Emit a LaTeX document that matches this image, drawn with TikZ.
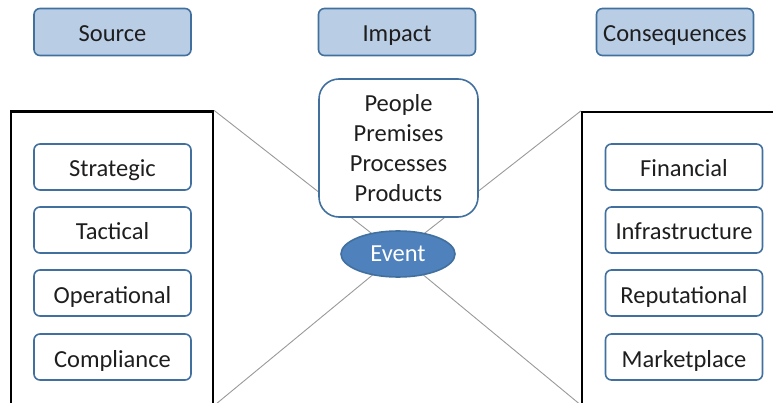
\documentclass[tikz,border=0pt]{standalone}
\usepackage{fontspec}
\setmainfont{Carlito}
\usetikzlibrary{shapes.geometric}
\definecolor{hdrfill}{HTML}{B9CDE5}
\definecolor{boxedge}{HTML}{41709F}
\definecolor{eventfill}{HTML}{4F81BD}
\definecolor{inktext}{HTML}{1E1E1E}
\tikzset{
  panel/.style={draw=boxedge, line width=1.6pt, rounded corners=6pt, text=inktext,
    font=\fontsize{24.5}{30}\selectfont},
  header/.style={panel, fill=hdrfill, minimum width=157pt, minimum height=47pt,
    text height=22pt, text depth=2pt},
  item/.style={panel, fill=white, minimum width=157pt, minimum height=46pt,
    text height=22pt, text depth=2pt},
  frame/.style={draw=black, line width=2.2pt, fill=white},
  spoke/.style={draw=gray!80, line width=0.9pt}
}
\begin{document}
\begin{tikzpicture}[x=1pt,y=-1pt]
  \useasboundingbox (0,0) rectangle (773,403);
  \coordinate (hub) at (398,254);

  \node[frame, minimum width=202pt, minimum height=293pt] (srcframe) at (112,258) {};
  \node[frame, minimum width=212pt, minimum height=292pt] (conframe) at (688,258) {};

  \draw[spoke] (srcframe.north east) -- (hub) -- (srcframe.south east);
  \draw[spoke] (conframe.north west) -- (hub) -- (conframe.south west);

  \node[header] (source) at (112.5,32) {Source};
  \node[header] (impact) at (397,32) {Impact};
  \node[header] (cons) at (675,32) {Consequences};

  \node[item] (strat) at (112.5,167) {Strategic};
  \node[item] (tact) at (112.5,230) {Tactical};
  \node[item] (oper) at (112.5,293) {Operational};
  \node[item] (compl) at (112.5,357) {Compliance};

  \node[item] (fin) at (684,167) {Financial};
  \node[item] (infra) at (684,230) {Infrastructure};
  \node[item] (repu) at (684,293) {Reputational};
  \node[item] (market) at (684,357) {Marketplace};

  \node[panel, fill=white, rounded corners=20pt, minimum width=159pt, minimum height=138pt,
    align=center] (assets) at (398.5,148) {People\\Premises\\Processes\\Products};
  \node[ellipse, draw=boxedge, fill=eventfill, line width=1.6pt, text=white,
    minimum width=114pt, minimum height=46pt, inner sep=0pt,
    font=\fontsize{24.5}{28}\selectfont] (event) at (hub) {Event};
\end{tikzpicture}
\end{document}
